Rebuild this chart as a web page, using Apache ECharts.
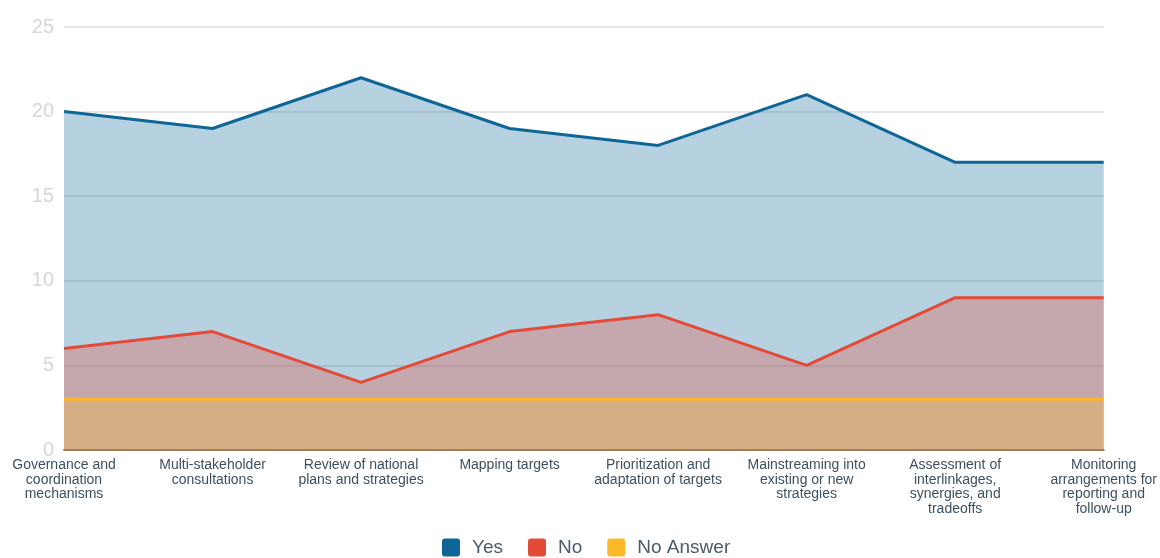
<!DOCTYPE html>
<html lang="en" style="height: 100%">
  <head>
    <meta charset="utf-8" />
  </head>
  <body style="margin: 0; height: 100%">
    <div id="container" style="width: 1160px; height: 558px"></div>
    <script type="text/javascript" src="https://cdn.jsdelivr.net/npm/echarts@6/dist/echarts.min.js"></script>
    <script type="text/javascript">
      var categories = [
        "Governance and\ncoordination\nmechanisms",
        "Multi-stakeholder\nconsultations",
        "Review of national\nplans and strategies",
        "Mapping targets",
        "Prioritization and\nadaptation of targets",
        "Mainstreaming into\nexisting or new\nstrategies",
        "Assessment of\ninterlinkages,\nsynergies, and\ntradeoffs",
        "Monitoring\narrangements for\nreporting and\nfollow-up",
      ];
      var yesValues = [20, 19, 22, 19, 18, 21, 17, 17];
      var noValues = [6, 7, 4, 7, 8, 5, 9, 9];
      var noAnswerValues = [3, 3, 3, 3, 3, 3, 3, 3];

      var dom = document.getElementById("container");
      var myChart = echarts.init(dom, null, { renderer: "canvas" });

      function areaSeries(name, data, color) {
        return {
          name: name,
          type: "line",
          data: data,
          symbol: "none",
          lineStyle: { color: color, width: 3 },
          itemStyle: { color: color },
          areaStyle: { color: color, opacity: 0.3 },
        };
      }

      var option = {
        animation: false,
        color: ["#0e6697", "#e34a37", "#fbb829"],
        grid: { left: 64, right: 56, top: 27, bottom: 108 },
        legend: {
          left: 437,
          bottom: -4,
          itemWidth: 18,
          itemHeight: 18,
          itemGap: 25,
          icon: "path://M3,0 L15,0 Q18,0 18,3 L18,15 Q18,18 15,18 L3,18 Q0,18 0,15 L0,3 Q0,0 3,0 Z",
          textStyle: {
            fontSize: 19,
            color: "#4a5a68",
            fontFamily: "Liberation Sans, Arial",
            padding: [0, 0, 0, 7],
          },
          data: ["Yes", "No", "No Answer"],
        },
        xAxis: {
          type: "category",
          boundaryGap: false,
          data: categories,
          axisLine: { show: true, lineStyle: { color: "#9c7a58", width: 2 } },
          axisTick: { show: false },
          axisLabel: {
            interval: 0,
            color: "#3d5060",
            fontSize: 14,
            lineHeight: 14.5,
            margin: 8,
            fontFamily: "Liberation Sans, Arial",
          },
        },
        yAxis: {
          type: "value",
          min: 0,
          max: 25,
          interval: 5,
          axisLabel: { color: "#d6d6d6", fontSize: 20, margin: 10, fontFamily: "Liberation Sans, Arial" },
          axisLine: { show: false },
          axisTick: { show: false },
          splitLine: { lineStyle: { color: "#dcdcdc", width: 1.5 } },
        },
        series: [
          areaSeries("Yes", yesValues, "#0e6697"),
          areaSeries("No", noValues, "#e34a37"),
          areaSeries("No Answer", noAnswerValues, "#fbb829"),
        ],
      };

      myChart.setOption(option);
      window.addEventListener("resize", myChart.resize);
    </script>
  </body>
</html>
